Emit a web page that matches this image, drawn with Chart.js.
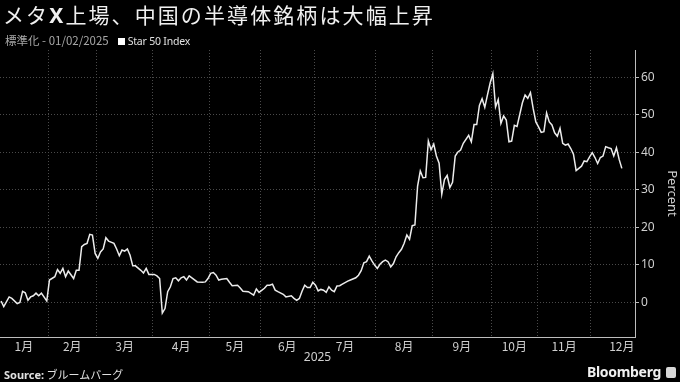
<!DOCTYPE html>
<html lang="ja">
<head>
  <meta charset="UTF-8" />
  <title>メタX上場、中国の半導体銘柄は大幅上昇</title>
  <script src="https://cdn.jsdelivr.net/npm/chart.js"></script>
  <style>
    html, body { margin: 0; padding: 0; background: #000; }
    body { width: 680px; height: 382px; position: relative; overflow: hidden;
           font-family: "Noto Sans CJK JP", "Noto Sans", sans-serif; color: #eee; }
    #chart { position: absolute; left: 0; top: 0; }
    #title { position: absolute; left: 3px; top: 1px; font-size: 21px; line-height: 26px;
             letter-spacing: 2.1px; color: #f0f0f0; white-space: nowrap; }
    #title b { font-family: "Noto Sans", sans-serif; font-weight: 700; }
    #sub { position: absolute; left: 5px; top: 32px; font-size: 11.5px; line-height: 16px;
           color: #a8a8a8; white-space: nowrap; }
    #sub .key { display: inline-block; width: 7px; height: 7px; background: #fff;
                margin-left: 9px; margin-right: 3px; }
    #sub .name { color: #e0e0e0; font-family: "Noto Sans", sans-serif; font-size: 10.5px; letter-spacing: -0.2px; }
    #src { position: absolute; left: 4px; top: 366px; font-size: 11px; line-height: 16px; color: #e0e0e0; }
    #src b { font-family: "Noto Sans", sans-serif; }
    #brand { position: absolute; right: 4px; top: 363px; font-family: "Noto Sans", sans-serif;
             font-weight: 700; font-size: 14px; line-height: 18px; color: #f0f0f0; letter-spacing: -0.3px; }
    #brand .ico { display: inline-block; width: 10px; height: 11px; background: #d8d8d8;
                  border-radius: 2px; margin-left: 5px; vertical-align: -1px; }
  </style>
</head>
<body>
  <canvas id="chart" width="680" height="382"></canvas>
  <div id="title">メタ<b>X</b>上場、中国の半導体銘柄は大幅上昇</div>
  <div id="sub">標準化 - 01/02/2025<span class="key"></span><span class="name">Star 50 Index</span></div>
  <div id="src"><b>Source:</b> ブルームバーグ</div>
  <div id="brand">Bloomberg<span class="ico"></span></div>

  <script>
    // months (trading-day index where each month starts, and its trading days)
    const monthLabels = ['1月', '2月', '3月', '4月', '5月', '6月', '7月', '8月', '9月', '10月', '11月', '12月'];
    const monthStart = [0, 18, 36, 57, 78, 97, 117, 140, 161, 183, 200, 220];
    const monthDays = [18, 18, 21, 21, 19, 20, 23, 21, 22, 17, 20, 23];
    const yTicks = [0, 10, 20, 30, 40, 50, 60];

    // Star 50 Index, % change vs 01/02/2025, by trading day
    const tradingDay = [
      0, 1, 3, 4, 6, 7, 8, 9, 10, 11, 12, 13, 14, 15, 17, 18, 20, 21, 22, 23,
      24, 25, 27, 28, 29, 30, 31, 32, 33, 34, 35, 36, 37, 38, 39, 40, 42, 43, 44, 45,
      46, 47, 48, 49, 50, 52, 53, 54, 55, 57, 58, 59, 60, 61, 62, 63, 64, 65, 66, 67,
      68, 69, 70, 71, 73, 75, 76, 77, 78, 79, 80, 81, 82, 84, 85, 86, 88, 89, 90, 92,
      94, 95, 96, 98, 99, 100, 101, 102, 103, 105, 106, 108, 109, 110, 111, 112, 113, 114, 115, 116,
      117, 118, 119, 120, 121, 122, 123, 124, 125, 126, 127, 129, 130, 132, 133, 134, 135, 136, 137, 138,
      139, 140, 141, 142, 143, 144, 145, 146, 147, 148, 149, 150, 151, 152, 153, 154, 155, 156, 157, 158,
      159, 160, 161, 162, 163, 164, 165, 166, 167, 168, 169, 170, 171, 172, 174, 175, 176, 177, 178, 179,
      180, 181, 182, 183, 184, 185, 186, 187, 188, 189, 190, 191, 192, 194, 195, 196, 197, 198, 199, 200,
      201, 202, 203, 204, 205, 206, 207, 208, 209, 210, 211, 212, 213, 214, 215, 216, 217, 218, 219, 220,
      221, 222, 223, 224, 225, 226, 227, 228, 229, 230, 231
    ];
    const starIndex = [
      0.3, -1.2, 1.4, 1.0, -0.4, -0.1, 2.9, 2.5, 0.5, 1.4, 1.7, 2.4, 1.7, 2.4, 0.3, 5.9, 6.8, 8.7, 7.7, 9.0,
      6.8, 8.3, 6.3, 8.5, 8.5, 14.8, 15.4, 15.7, 18.1, 17.9, 13.0, 11.7, 13.4, 14.2, 17.2, 16.3, 15.7, 14.2, 12.4, 13.9,
      13.6, 14.2, 12.5, 9.7, 9.7, 8.5, 7.8, 9.0, 7.4, 7.4, 7.0, 6.3, -2.9, -1.7, 2.8, 4.1, 6.3, 6.5, 5.7, 6.5,
      6.8, 5.9, 7.0, 6.5, 5.4, 5.3, 5.4, 6.3, 7.7, 7.9, 7.2, 5.9, 6.1, 6.3, 5.3, 4.4, 4.5, 3.8, 2.9, 2.8,
      1.9, 3.5, 2.6, 3.7, 4.5, 4.5, 4.8, 3.2, 2.8, 2.1, 1.4, 1.7, 1.0, 0.5, 1.0, 2.9, 4.5, 3.9, 3.9, 5.3,
      4.5, 3.0, 3.4, 3.2, 2.6, 4.1, 3.2, 2.8, 4.3, 4.4, 4.8, 5.6, 5.9, 6.5, 7.2, 8.4, 10.5, 10.8, 12.3, 11.0,
      9.9, 9.0, 10.1, 10.8, 11.2, 10.8, 9.4, 10.3, 12.1, 13.2, 14.1, 15.7, 17.9, 16.8, 20.4, 20.6, 31.0, 35.0, 33.2, 33.3,
      43.0, 40.7, 42.2, 39.0, 37.1, 28.8, 32.7, 33.8, 30.6, 32.0, 39.0, 40.1, 40.6, 42.4, 44.5, 42.8, 47.4, 47.4, 52.5, 54.3,
      52.0, 55.3, 58.5, 61.0, 52.1, 54.1, 47.7, 49.7, 48.6, 42.8, 43.0, 47.2, 46.9, 53.2, 55.3, 54.4, 55.9, 51.7, 48.1, 46.8,
      45.3, 45.5, 50.5, 48.1, 47.3, 45.2, 44.3, 46.4, 42.4, 41.9, 42.2, 41.0, 39.5, 35.1, 35.7, 36.3, 37.7, 37.5, 38.8, 39.9,
      38.6, 37.0, 38.6, 39.0, 41.5, 41.2, 41.0, 39.0, 41.2, 38.1, 35.7
    ];

    // month boundary lines and label positions on the trading-day axis
    const boundaries = monthStart.slice(1).map(d => d - 0.5);
    const centers = monthStart.map((d, i) => d + monthDays[i] / 2 - 0.5);
    const labelAt = new Map(centers.map((c, i) => [c, monthLabels[i]]));
    const isBoundary = v => boundaries.includes(v);

    const gridGray = '#4a4a4a';
    const axisGray = '#bdbdbd';
    const textGray = '#cfcfcf';

    const ctx = document.getElementById('chart').getContext('2d');
    new Chart(ctx, {
      type: 'line',
      data: {
        datasets: [{
          label: 'Star 50 Index',
          data: tradingDay.map((d, i) => ({ x: d, y: starIndex[i] })),
          borderColor: '#ececec',
          borderWidth: 1.5,
          pointRadius: 0,
          tension: 0,
          fill: false
        }]
      },
      options: {
        responsive: false,
        animation: false,
        layout: { padding: { top: 50, bottom: 17, left: 0, right: 0 } },
        plugins: { legend: { display: false }, tooltip: { enabled: false } },
        scales: {
          x: {
            type: 'linear',
            min: -0.4,
            max: 235.9,
            afterBuildTicks: scale => {
              scale.ticks = [...boundaries, ...centers].sort((a, b) => a - b).map(v => ({ value: v }));
            },
            afterFit: scale => { scale.height = 28; },
            ticks: {
              autoSkip: false,
              maxRotation: 0,
              padding: 2,
              color: textGray,
              font: { family: '"Noto Sans CJK JP", sans-serif', size: 12 },
              callback: v => labelAt.get(v) || ''
            },
            grid: {
              drawTicks: false,
              color: c => isBoundary(c.tick && c.tick.value) ? gridGray : 'rgba(0,0,0,0)'
            },
            border: { display: true, color: axisGray, width: 1, dash: [1, 2] },
            title: {
              display: true,
              text: '2025',
              color: textGray,
              padding: 0,
              font: { family: '"Noto Sans", sans-serif', size: 12 }
            }
          },
          y: {
            position: 'right',
            min: -9.3,
            max: 67.3,
            afterBuildTicks: scale => { scale.ticks = yTicks.map(v => ({ value: v })); },
            afterFit: scale => { scale.width = 45; },
            ticks: {
              padding: 2,
              color: textGray,
              font: { family: '"Noto Sans", sans-serif', size: 12 }
            },
            grid: {
              color: gridGray,
              drawTicks: true,
              tickLength: 4,
              tickColor: axisGray
            },
            border: { display: true, color: axisGray, width: 1, dash: [1, 2] },
            title: {
              display: true,
              text: 'Percent',
              color: textGray,
              padding: 0,
              font: { family: '"Noto Sans", sans-serif', size: 13 }
            }
          }
        }
      }
    });
  </script>
</body>
</html>
